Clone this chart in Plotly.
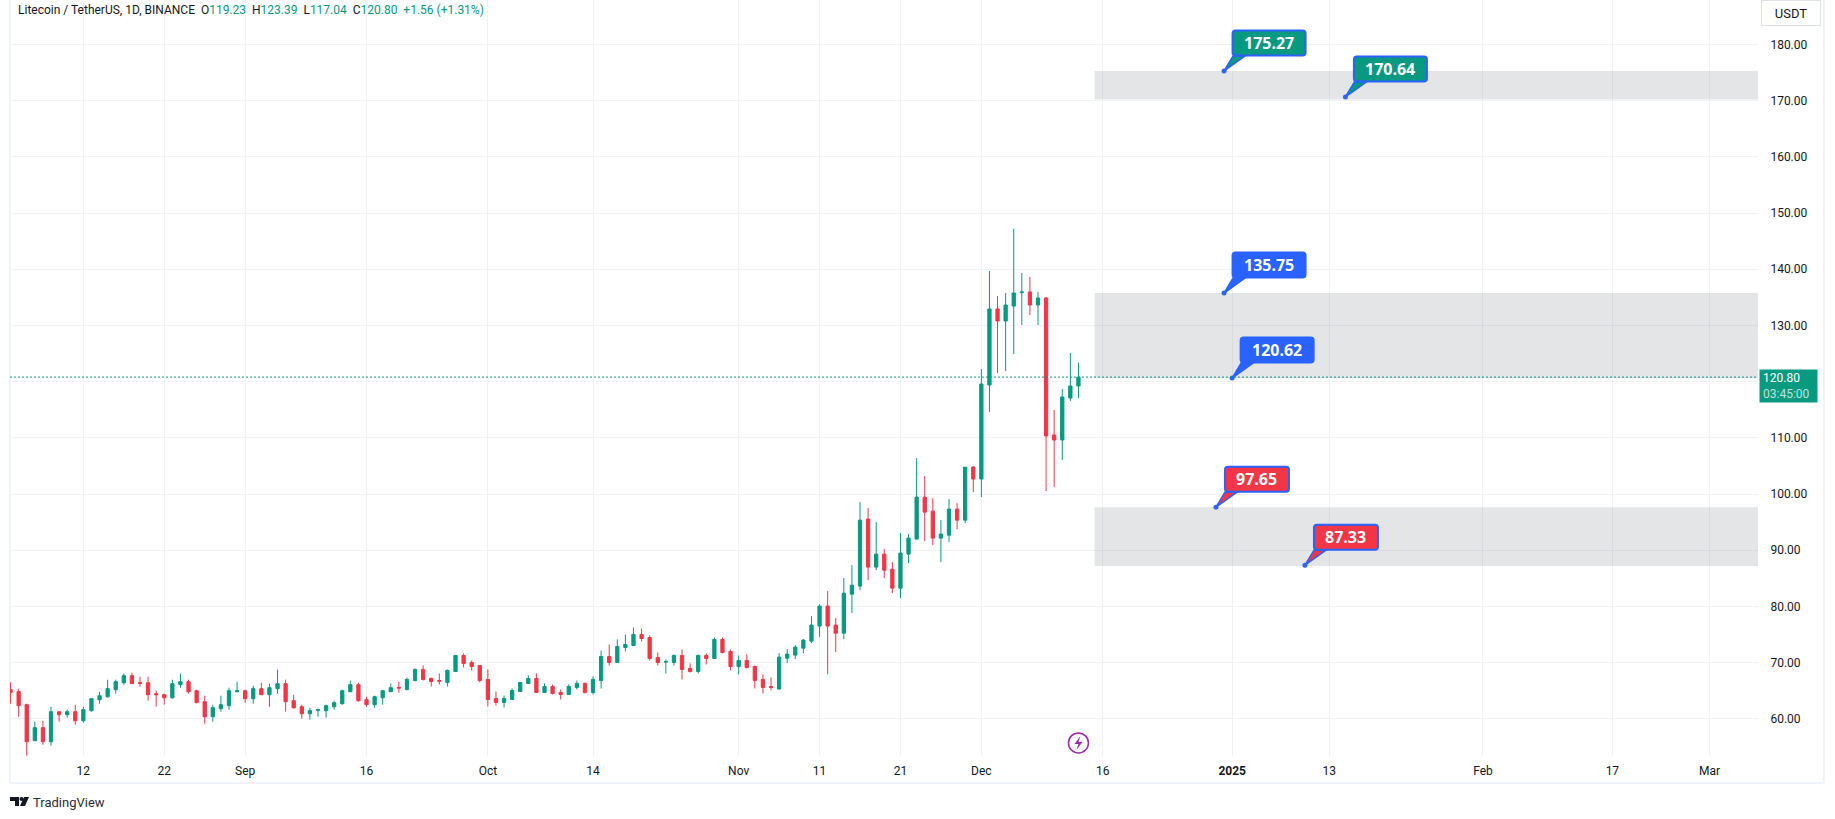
import pandas as pd
import plotly.graph_objects as go

# ---- Data ----
start_date = "2024-08-03"
opens = [65.18,64.82,62.51,56.10,58.42,55.93,61.26,60.73,61.26,59.66,61.44,63.40,63.93,65.18,66.42,67.67,66.48,66.42,64.47,64.29,63.75,66.07,66.60,65.00,63.04,60.37,61.80,62.33,64.82,65.00,63.58,65.36,64.29,65.36,66.25,63.22,62.15,60.91,61.50,61.44,62.15,62.69,64.82,66.07,63.40,62.51,63.75,64.82,65.59,
65.22,66.82,68.78,67.18,66.82,66.47,68.42,71.27,70.02,69.49,67.00,63.62,62.91,63.44,64.86,66.29,67.18,64.69,65.75,64.69,64.33,65.58,66.29,64.69,66.82,71.09,70.02,72.69,73.05,75.01,74.47,70.91,70.08,70.02,71.27,68.96,68.42,71.27,70.74,74.12,71.98,69.31,70.38,69.31,67.00,65.75,
65.28,70.79,71.33,72.57,73.82,76.49,80.05,76.67,75.24,82.18,83.61,95.53,86.99,89.30,86.63,83.25,89.30,91.97,99.44,96.95,92.15,92.68,97.31,95.35,
104.80,102.67,119.39,132.92,130.78,133.45,135.83,135.95,133.63,134.87,110.50,109.61,117.08,119.23]
highs = [66.48,65.36,62.69,59.48,59.66,62.15,61.26,61.62,62.51,62.15,63.58,64.82,66.96,66.96,68.02,68.20,67.49,67.49,65.00,64.47,66.96,68.02,66.96,65.18,64.11,62.51,64.11,65.53,66.60,65.18,65.89,66.42,66.25,68.74,66.96,64.29,62.51,61.97,61.80,62.51,63.22,65.18,66.78,66.42,63.93,64.11,65.00,66.25,66.60,
67.35,68.96,69.49,67.35,68.07,68.78,71.27,71.63,70.38,69.49,68.78,64.86,64.15,65.40,66.47,67.71,68.07,66.29,66.11,65.22,66.11,66.82,66.47,67.53,72.16,73.23,74.12,75.01,76.25,76.07,74.83,71.80,70.56,71.45,72.34,69.85,71.45,71.63,74.47,74.47,72.34,71.27,71.45,69.49,67.89,67.35,
71.68,72.40,73.11,74.18,78.27,80.40,82.72,77.91,85.03,87.34,98.55,97.49,94.99,90.19,87.88,93.04,92.86,106.38,103.18,99.26,95.35,99.09,98.37,104.78,
104.98,122.24,139.68,135.23,135.77,147.16,139.32,138.61,135.95,135.05,114.95,118.68,125.08,123.39]
lows = [62.69,60.37,53.43,56.10,55.39,55.21,59.48,60.20,58.95,59.31,61.26,62.69,63.75,64.47,66.07,66.25,65.71,63.22,62.15,62.51,63.58,65.53,64.47,62.86,59.13,59.48,61.26,61.62,64.82,62.86,62.69,64.29,62.15,64.47,61.26,61.80,60.02,59.84,60.37,60.20,61.62,62.51,64.82,63.04,62.15,61.97,62.51,64.82,64.64,
65.04,66.64,66.82,65.75,66.11,65.75,68.42,69.13,68.60,66.47,62.19,62.37,62.02,63.44,64.86,66.29,64.69,64.69,64.33,63.44,64.33,65.22,64.51,64.33,65.40,69.49,70.02,71.98,73.05,73.76,70.38,69.49,68.07,69.49,67.00,68.24,68.07,69.67,70.74,71.63,68.60,67.89,68.96,65.40,64.51,65.04,
65.28,69.91,70.62,71.68,73.46,74.53,67.95,71.86,74.18,78.80,82.89,84.67,86.45,85.03,82.36,81.47,87.70,91.97,91.61,90.90,87.88,91.44,93.75,94.82,
100.36,99.47,114.59,121.53,121.89,124.91,130.07,131.85,130.07,100.53,101.24,106.05,116.54,117.04]
closes = [64.70,62.33,55.93,58.42,55.93,61.26,60.73,61.26,59.66,61.62,63.58,64.11,65.36,66.60,67.67,66.25,66.30,64.29,64.29,63.75,66.25,66.60,64.82,62.86,60.37,61.97,62.51,65.00,65.00,63.58,65.36,64.29,65.53,66.25,63.04,61.97,60.91,61.44,61.62,62.33,62.86,65.00,66.07,63.22,62.51,63.93,65.00,65.53,65.47,
67.00,68.78,67.00,66.64,66.70,68.60,71.27,69.85,69.31,66.82,63.44,62.91,63.62,65.04,66.47,67.18,64.69,65.75,64.51,64.33,65.75,66.29,64.69,67.00,71.09,70.02,72.87,73.23,75.01,74.29,70.74,70.02,70.20,71.27,68.78,68.42,71.27,70.74,74.12,71.80,69.31,70.38,69.13,66.82,65.58,65.58,
70.97,71.51,72.75,74.00,76.67,80.05,76.49,75.24,82.36,83.78,95.35,86.99,89.30,86.45,83.25,89.48,92.15,99.44,96.77,92.15,92.86,97.31,95.35,104.78,
102.67,119.57,132.92,130.78,133.63,135.77,135.95,133.63,134.87,110.32,109.61,117.26,119.22,120.80]

y_tick_values = [60,70,80,90,100,110,120,130,140,150,160,170,180]
y_tick_labels = ["60.00","70.00","80.00","90.00","100.00","110.00","","130.00","140.00","150.00","160.00","170.00","180.00"]
x_tick_dates = ["2024-08-12","2024-08-22","2024-09-01","2024-09-16","2024-10-01","2024-10-14","2024-11-01","2024-11-11","2024-11-21","2024-12-01","2024-12-16","2025-01-01","2025-01-13","2025-02-01","2025-02-17","2025-03-01"]
x_tick_labels = ["12","22","Sep","16","Oct","14","Nov","11","21","Dec","16","<b>2025</b>","13","Feb","17","Mar"]

zone_lows = [170.2,120.62,87.2]
zone_highs = [175.27,135.75,97.65]
zone_start = "2024-12-15"

callout_prices = [175.27,170.64,135.75,120.62,97.65,87.33]
callout_dates = ["2024-12-31","2025-01-15","2024-12-31","2025-01-01","2024-12-30","2025-01-10"]
callout_kinds = ["up","up","mid","mid","down","down"]

last_price = 120.80
header_parts = [("Litecoin / TetherUS, 1D, BINANCE  O","ink"),("119.23  ","up"),("H","ink"),("123.39  ","up"),("L","ink"),("117.04  ","up"),("C","ink"),("120.80  +1.56 (+1.31%)","up")]

# ---- Style ----
GREEN, RED, BLUE = "#089981", "#F23645", "#2962FF"
INK, GRID, FRAME = "#131722", "#F1F2F5", "#F0F3FA"
ZONE = "rgba(120,123,134,0.2)"
FONT = "Roboto"
W, H = 1835, 819
L, R, T, B = 10, 1758, 0, 756   # plot box in page pixels
kind_colour = {"up": GREEN, "mid": BLUE, "down": RED}
colour_of = {"ink": INK, "up": GREEN}

def px(x): return (x - L) / (R - L)
def py(y): return 1 - (y - T) / (B - T)

dates = pd.date_range(start_date, periods=len(opens))
x_range = ["2024-08-02 22:20", "2025-03-07 00:00"]

fig = go.Figure()
fig.add_trace(go.Candlestick(
    x=dates, open=opens, high=highs, low=lows, close=closes,
    increasing=dict(line=dict(color=GREEN, width=1), fillcolor=GREEN),
    decreasing=dict(line=dict(color=RED, width=1), fillcolor=RED),
    whiskerwidth=0, showlegend=False, hoverinfo="skip",
))

shapes = []
for lo, hi in zip(zone_lows, zone_highs):
    shapes.append(dict(type="rect", xref="x", yref="y", x0=zone_start, x1=x_range[1], y0=lo, y1=hi,
                       fillcolor=ZONE, line=dict(width=0), layer="above"))
shapes.append(dict(type="line", xref="paper", yref="y", x0=0, x1=1, y0=last_price, y1=last_price,
                   line=dict(color=GREEN, width=1, dash="2px,2px")))
# frame round the chart
for x0, y0, x1, y1 in [(10, 0, 10, 783), (10, 783, 1824, 783), (1824, 0, 1824, 783)]:
    shapes.append(dict(type="line", xref="paper", yref="paper", x0=px(x0), x1=px(x1), y0=py(y0), y1=py(y1),
                       line=dict(color=FRAME, width=2), layer="below"))

def rounded_box(dx, dy, w, h, r=3):
    a, b, c, d = dx - w / 2, dx + w / 2, dy - h / 2, dy + h / 2
    return (f"M {a + r} {c} L {b - r} {c} Q {b} {c} {b} {c + r} L {b} {d - r} Q {b} {d} {b - r} {d} "
            f"L {a + r} {d} Q {a} {d} {a} {d - r} L {a} {c + r} Q {a} {c} {a + r} {c} Z")

annotations = []
for price, day, kind in zip(callout_prices, callout_dates, callout_kinds):
    c = kind_colour[kind]
    wide = price >= 100
    dx, dy = (45 if wide else 41), 28
    common = dict(type="path", xref="x", yref="y", xsizemode="pixel", ysizemode="pixel", xanchor=day, yanchor=price)
    shapes.append(dict(common, path="M 0 0 L 9 15 L 21 15 Z", fillcolor=c, line=dict(color=BLUE, width=1.5)))
    shapes.append(dict(common, path=rounded_box(dx, dy, 73 if wide else 64, 25), fillcolor=c, line=dict(color=BLUE, width=2)))
    annotations.append(dict(xref="x", yref="y", x=day, y=price, showarrow=False, xshift=dx, yshift=dy,
                            text=f"<b>{price:.2f}</b>", font=dict(family="Noto Sans", size=16, color="white")))

# marker bolt icon on the date axis
shapes.append(dict(type="circle", xref="x", yref="y", xsizemode="pixel", ysizemode="pixel",
                   xanchor="2024-12-13", yanchor=55.7, x0=-10, x1=10, y0=-10, y1=10,
                   line=dict(color="#9C27B0", width=1.5), fillcolor="white"))
shapes.append(dict(type="path", xref="x", yref="y", xsizemode="pixel", ysizemode="pixel",
                   xanchor="2024-12-13", yanchor=55.7, path="M 2 7 L -4 -1 L 0 -1 L -2 -7 L 4 1 L 0 1 Z",
                   fillcolor="#9C27B0", line=dict(width=0)))
# TradingView logo
def logo(points):
    return "M " + " L ".join(f"{px(a):.5f} {py(b):.5f}" for a, b in points) + " Z"
for pts in ([(10, 797), (19, 797), (19, 806), (15, 806), (15, 801), (10, 801)],
            [(29, 797), (24, 797), (20, 806), (25, 806)]):
    shapes.append(dict(type="path", xref="paper", yref="paper", path=logo(pts), fillcolor=INK, line=dict(width=0)))
shapes.append(dict(type="circle", xref="paper", yref="paper", x0=px(19.5), x1=px(23.5), y0=py(801), y1=py(797),
                   fillcolor=INK, line=dict(width=0)))

header = "".join(f'<span style="color:{colour_of[k]}">{t.replace("  ", "&nbsp;&nbsp;")}</span>' for t, k in header_parts)
annotations += [
    dict(xref="paper", yref="paper", x=px(15.5), y=py(10.5), xanchor="left", yanchor="middle", showarrow=False,
         text=header, font=dict(family=FONT, size=12, color=INK)),
    dict(xref="paper", yref="y", x=px(1759), y=last_price, xanchor="left", yanchor="top", yshift=8, showarrow=False,
         text=f'{last_price:.2f}<br><span style="color:#BDE3DC">03:45:00</span>', align="left",
         font=dict(family=FONT, size=12, color="white"), bgcolor=GREEN, width=51, height=26, borderpad=3),
    dict(xref="paper", yref="paper", x=px(1791), y=py(13), xanchor="center", yanchor="middle", showarrow=False,
         text="USDT", font=dict(family=FONT, size=13, color=INK), bgcolor="white", bordercolor="#E0E3EB", borderwidth=1,
         width=56, height=22),
    dict(xref="paper", yref="paper", x=px(31), y=py(802), xanchor="left", yanchor="middle", showarrow=False,
         text="TradingView", font=dict(family=FONT, size=13, color="#2A2E39")),
]

fig.add_trace(go.Scatter(x=callout_dates, y=callout_prices, mode="markers",
                         marker=dict(color=BLUE, size=5), showlegend=False, hoverinfo="skip"))

fig.update_layout(
    width=W, height=H, margin=dict(l=L, r=W - R, t=T, b=H - B, pad=0),
    paper_bgcolor="white", plot_bgcolor="white", boxgap=0.42,
    font=dict(family=FONT, size=12, color=INK), showlegend=False, hovermode=False,
    shapes=shapes, annotations=annotations,
    xaxis=dict(type="date", range=x_range, rangeslider=dict(visible=False), tickmode="array",
               tickvals=x_tick_dates, ticktext=x_tick_labels, showgrid=True, gridcolor=GRID, gridwidth=1,
               zeroline=False, showline=False, ticks="outside", ticklen=4, tickcolor="white", tickangle=0,
               tickfont=dict(family=FONT, size=12, color=INK)),
    yaxis=dict(range=[53.38, 187.9], side="right", tickmode="array", tickvals=y_tick_values,
               ticktext=y_tick_labels, showgrid=True, gridcolor=GRID, gridwidth=1,
               zeroline=False, showline=False, ticks="outside", ticklen=9, tickcolor="white",
               tickfont=dict(family=FONT, size=12, color=INK)),
)
fig.write_html("out.html", config=dict(displayModeBar=False),
               post_script="document.body.style.margin='0';document.body.style.overflow='hidden';")
